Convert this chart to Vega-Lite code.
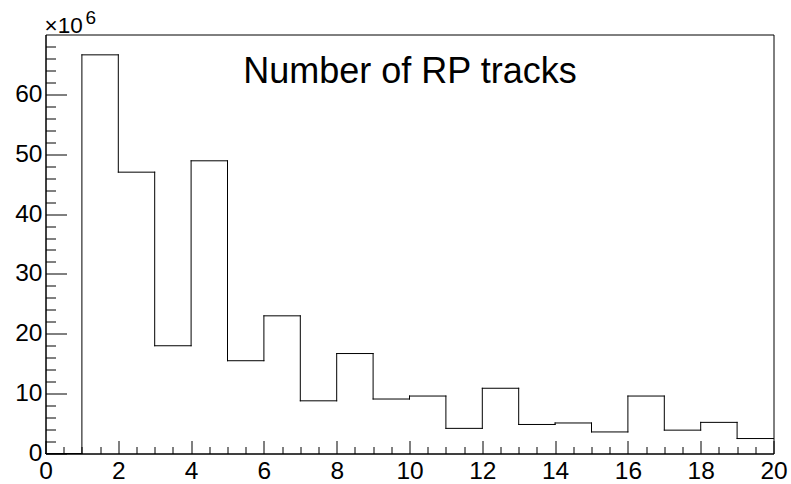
{
  "$schema": "https://vega.github.io/schema/vega-lite/v6.json",
  "width": 728,
  "height": 419,
  "autosize": {"type": "none"},
  "padding": {"left": 45.5, "top": 34.5, "right": 17.5, "bottom": 30.5},
  "background": "white",
  "config": {
    "font": "Liberation Sans",
    "view": {"stroke": "black", "strokeWidth": 1},
    "axis": {
      "grid": false,
      "domainColor": "black",
      "domainWidth": 1,
      "tickColor": "black",
      "tickWidth": 1,
      "labelFont": "Liberation Sans",
      "labelFontSize": 24.5,
      "labelColor": "black",
      "labelFlush": false,
      "labelOverlap": false,
      "titleFont": "Liberation Sans",
      "titleFontWeight": "normal",
      "titleColor": "black"
    }
  },
  "data": {
    "values": [
      {"lo": 0, "hi": 1, "count": 0},
      {"lo": 1, "hi": 2, "count": 66600000},
      {"lo": 2, "hi": 3, "count": 47000000},
      {"lo": 3, "hi": 4, "count": 18000000},
      {"lo": 4, "hi": 5, "count": 48900000},
      {"lo": 5, "hi": 6, "count": 15500000},
      {"lo": 6, "hi": 7, "count": 23000000},
      {"lo": 7, "hi": 8, "count": 8800000},
      {"lo": 8, "hi": 9, "count": 16700000},
      {"lo": 9, "hi": 10, "count": 9100000},
      {"lo": 10, "hi": 11, "count": 9600000},
      {"lo": 11, "hi": 12, "count": 4200000},
      {"lo": 12, "hi": 13, "count": 10900000},
      {"lo": 13, "hi": 14, "count": 4850000},
      {"lo": 14, "hi": 15, "count": 5100000},
      {"lo": 15, "hi": 16, "count": 3600000},
      {"lo": 16, "hi": 17, "count": 9600000},
      {"lo": 17, "hi": 18, "count": 3900000},
      {"lo": 18, "hi": 19, "count": 5200000},
      {"lo": 19, "hi": 20, "count": 2500000}
    ]
  },
  "resolve": {"axis": {"x": "independent", "y": "independent"}},
  "layer": [
    {
      "description": "Horizontal top of each bin, with the major axes",
      "mark": {"type": "rule", "color": "black", "strokeWidth": 1, "strokeCap": "square"},
      "encoding": {
        "x": {
          "field": "lo",
          "type": "quantitative",
          "scale": {"domain": [0, 20], "nice": false, "zero": false},
          "axis": {
            "orient": "bottom",
            "values": [0, 2, 4, 6, 8, 10, 12, 14, 16, 18, 20],
            "tickSize": -13,
            "labelPadding": 19,
            "title": "Number of RP tracks",
            "titleFontSize": 36,
            "titleAlign": "center",
            "titleBaseline": "alphabetic",
            "titleX": 364,
            "titleY": -371.5
          }
        },
        "x2": {"field": "hi"},
        "y": {
          "field": "count",
          "type": "quantitative",
          "scale": {"domain": [0, 70000000], "nice": false},
          "axis": {
            "orient": "left",
            "values": [0, 10000000, 20000000, 30000000, 40000000, 50000000, 60000000],
            "labelExpr": "format(datum.value / 1000000, 'd')",
            "tickSize": -21,
            "labelPadding": 24.5,
            "title": "×10",
            "titleFontSize": 22.5,
            "titleAngle": 0,
            "titleAlign": "left",
            "titleBaseline": "alphabetic",
            "titleX": -1.5,
            "titleY": -2.5
          }
        }
      }
    },
    {
      "description": "Vertical steps between neighbouring bins, with the minor ticks",
      "transform": [
        {"window": [{"op": "lag", "field": "count", "as": "prev"}], "sort": [{"field": "lo", "order": "ascending"}]},
        {"filter": "datum.prev != null"}
      ],
      "mark": {"type": "rule", "color": "black", "strokeWidth": 1, "strokeCap": "square"},
      "encoding": {
        "x": {
          "field": "lo",
          "type": "quantitative",
          "axis": {
            "orient": "bottom",
            "values": [0.5, 1, 1.5, 2.5, 3, 3.5, 4.5, 5, 5.5, 6.5, 7, 7.5, 8.5, 9, 9.5, 10.5, 11, 11.5, 12.5, 13, 13.5, 14.5, 15, 15.5, 16.5, 17, 17.5, 18.5, 19, 19.5],
            "tickSize": -7,
            "labels": false,
            "domain": false,
            "title": null
          }
        },
        "y": {
          "field": "prev",
          "type": "quantitative",
          "axis": {
            "orient": "left",
            "values": [2000000, 4000000, 6000000, 8000000, 12000000, 14000000, 16000000, 18000000, 22000000, 24000000, 26000000, 28000000, 32000000, 34000000, 36000000, 38000000, 42000000, 44000000, 46000000, 48000000, 52000000, 54000000, 56000000, 58000000, 62000000, 64000000, 66000000, 68000000],
            "tickSize": -10,
            "labels": false,
            "domain": false,
            "title": "6",
            "titleFontSize": 19,
            "titleAngle": 0,
            "titleAlign": "left",
            "titleBaseline": "alphabetic",
            "titleX": 39.5,
            "titleY": -11
          }
        },
        "y2": {"field": "count"}
      }
    }
  ]
}
